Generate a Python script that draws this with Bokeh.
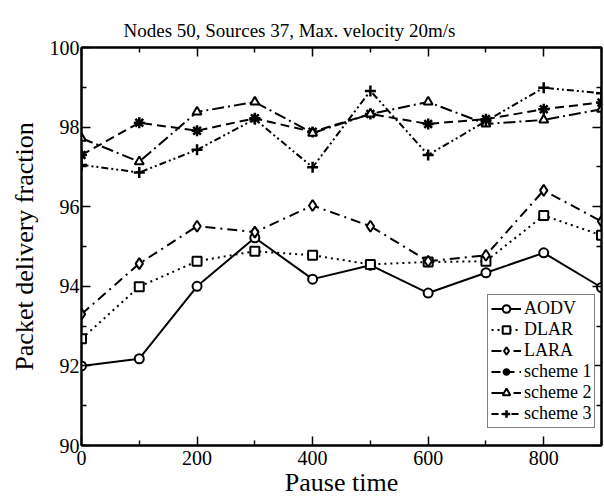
from bokeh.plotting import figure
from bokeh.models import LinearAxis, Legend, LegendItem, FixedTicker, Range1d
from bokeh.embed import file_html
from bokeh.resources import INLINE

pause_time = [0, 100, 200, 300, 400, 500, 600, 700, 800, 900]
aodv = [92.0, 92.18, 94.0, 95.22, 94.18, 94.53, 93.83, 94.34, 94.84, 93.97]
dlar = [92.68, 93.99, 94.63, 94.88, 94.78, 94.55, 94.61, 94.63, 95.78, 95.28]
lara = [93.3, 94.57, 95.51, 95.36, 96.03, 95.51, 94.63, 94.78, 96.41, 95.63]
scheme1 = [97.3, 98.11, 97.91, 98.22, 97.88, 98.33, 98.08, 98.2, 98.45, 98.62]
scheme2 = [97.72, 97.13, 98.38, 98.63, 97.85, 98.33, 98.63, 98.08, 98.18, 98.45]
scheme3 = [97.05, 96.86, 97.43, 98.2, 96.99, 98.91, 97.3, 98.15, 98.99, 98.85]

x_ticks = [0, 200, 400, 600, 800]
y_ticks = [90, 92, 94, 96, 98, 100]

FONT = "Liberation Serif"

p = figure(width=604, height=499, output_backend="svg", toolbar_location=None,
           x_range=Range1d(0, 900), y_range=Range1d(90, 100),
           min_border_left=81, min_border_right=3, min_border_top=47, min_border_bottom=52,
           title="Nodes 50, Sources 37, Max. velocity 20m/s")
p.title.text_font = FONT
p.title.text_font_size = "19px"
p.title.text_font_style = "normal"
p.title.text_color = "black"
p.title.align = "left"
p.title.offset = 42
p.title.vertical_align = "top"
p.grid.visible = False
p.outline_line_color = "black"
p.outline_line_width = 2

def style_axis(ax, labels=True):
    ax.axis_line_width = 2
    ax.axis_line_color = "black"
    ax.major_tick_in = 9
    ax.major_tick_out = 0
    ax.minor_tick_in = 5
    ax.minor_tick_out = 0
    ax.major_tick_line_width = 1.5
    ax.minor_tick_line_width = 1.5
    ax.major_label_text_font = FONT
    ax.major_label_text_font_size = "20px"
    ax.major_label_text_color = "black"
    ax.axis_label_text_font = FONT
    ax.axis_label_text_font_size = "26px"
    ax.axis_label_text_font_style = "normal"
    ax.axis_label_text_color = "black"
    if not labels:
        ax.major_label_text_color = None
        ax.major_label_text_font_size = "2px"

p.xaxis.ticker = FixedTicker(ticks=x_ticks, minor_ticks=[100, 300, 500, 700, 900])
p.yaxis.ticker = FixedTicker(ticks=y_ticks, minor_ticks=[91, 93, 95, 97, 99])
p.xaxis.axis_label = "Pause time"
p.yaxis.axis_label = "Packet delivery fraction"
style_axis(p.xaxis[0])
style_axis(p.yaxis[0])
p.xaxis.major_label_standoff = 5
p.yaxis.major_label_standoff = 2
p.xaxis.axis_label_standoff = 0
p.yaxis.axis_label_standoff = 8

top = LinearAxis(ticker=FixedTicker(ticks=x_ticks, minor_ticks=[100, 300, 500, 700, 900]))
style_axis(top, labels=False)
right = LinearAxis(ticker=FixedTicker(ticks=y_ticks, minor_ticks=[91, 93, 95, 97, 99]))
style_axis(right, labels=False)
top.major_label_standoff = 0
right.major_label_standoff = 0
p.add_layout(top, "above")
p.add_layout(right, "right")

series = [
    ("AODV", aodv, "solid", "circle"),
    ("DLAR", dlar, "2 4", "square"),
    ("LARA", lara, "10 5 2 5", "diamond"),
    ("scheme 1", scheme1, "9 5", "asterisk"),
    ("scheme 2", scheme2, "12 4 2 4", "triangle"),
    ("scheme 3", scheme3, "7 3 2 3 2 3", "cross"),
]

items = []
for name, ys, dash, marker in series:
    r1 = p.line(pause_time, ys, line_color="black", line_width=2, line_dash=dash)
    if marker in ("asterisk", "cross"):
        r2 = p.scatter(pause_time, ys, marker=marker, size=11, line_color="black", line_width=2.5)
    else:
        r2 = p.scatter(pause_time, ys, marker=marker, size=9 if marker != "diamond" else 11,
                       line_color="black", line_width=2, fill_color="white")
    items.append(LegendItem(label=name, renderers=[r1, r2]))

legend = Legend(items=items, location=(406, 17))
legend.label_text_font = FONT
legend.label_text_font_size = "18px"
legend.label_text_color = "black"
legend.label_height = 19
legend.glyph_height = 19
legend.glyph_width = 30
legend.spacing = 0
legend.padding = 3
legend.margin = 0
legend.label_standoff = 3
legend.border_line_color = "black"
legend.border_line_width = 1.5
legend.background_fill_alpha = 1
p.add_layout(legend, "center")

open("out.html", "w").write(file_html(p, INLINE))
